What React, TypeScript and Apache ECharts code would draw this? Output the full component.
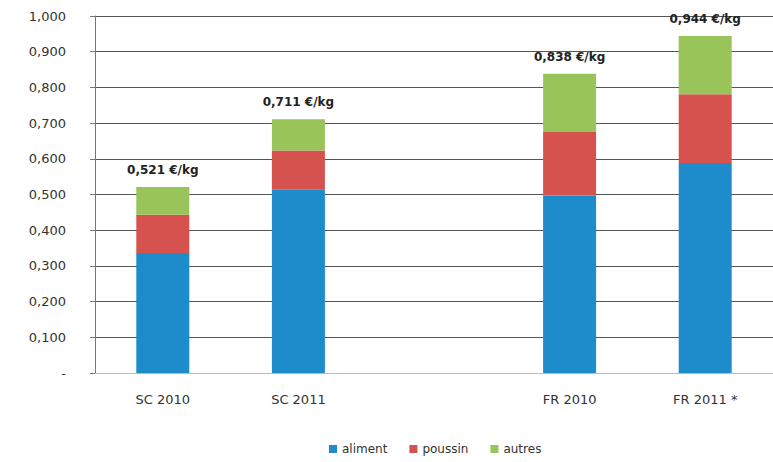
import React, { useEffect, useRef } from "react";
import * as echarts from "echarts";

const categories = ["SC 2010", "SC 2011", "", "FR 2010", "FR 2011 *"];
const aliment = [0.336, 0.515, null, 0.497, 0.588];
const poussin = [0.107, 0.108, null, 0.178, 0.193];
const autres = [0.078, 0.088, null, 0.163, 0.163];
const totals = ["0,521", "0,711", "", "0,838", "0,944"];
const seriesNames = ["aliment", "poussin", "autres"];
const colors = ["#1E8CCB", "#D6524E", "#98C45A"];

const fontFamily = "'DejaVu Sans', 'Noto Sans', sans-serif";

export default function App() {
  const ref = useRef<HTMLDivElement>(null);
  useEffect(() => {
    if (!ref.current) return;
    const chart = echarts.init(ref.current, null, { renderer: "svg" });
    const dataSets = [aliment, poussin, autres];
    chart.setOption({
      animation: false,
      backgroundColor: "#ffffff",
      textStyle: { fontFamily },
      grid: { left: 95, right: 0, top: 16, bottom: 89 },
      legend: {
        data: seriesNames,
        left: 324,
        top: 438,
        itemWidth: 8,
        itemHeight: 8,
        itemGap: 22,
        icon: "rect",
        textStyle: { fontSize: 12, color: "#333", fontFamily },
      },
      xAxis: {
        type: "category",
        data: categories,
        axisLine: { show: true, lineStyle: { color: "#bbb" } },
        axisTick: { show: false },
        axisLabel: { fontSize: 13, color: "#333", margin: 20, fontFamily },
      },
      yAxis: {
        type: "value",
        min: 0,
        max: 1,
        interval: 0.1,
        axisLine: { show: true, lineStyle: { color: "#777" } },
        axisTick: { show: true, length: 5, lineStyle: { color: "#777" } },
        axisLabel: {
          fontSize: 13,
          color: "#333",
          margin: 29,
          fontFamily,
          formatter: (v: number) => (v === 0 ? "-" : v.toFixed(3).replace(".", ",")),
        },
        splitLine: { show: true, lineStyle: { color: "#555", width: 1 } },
      },
      series: dataSets.map((d, i) => ({
        name: seriesNames[i],
        type: "bar",
        stack: "total",
        barWidth: 53,
        data: d,
        itemStyle: { color: colors[i] },
        label:
          i === 2
            ? {
                show: true,
                position: "top",
                distance: 11,
                fontSize: 12,
                fontWeight: "bold",
                color: "#222",
                fontFamily,
                formatter: (p: any) => (totals[p.dataIndex] ? totals[p.dataIndex] + " €/kg" : ""),
              }
            : { show: false },
      })),
    });
    return () => chart.dispose();
  }, []);
  return (
    <div
      ref={ref}
      style={{ position: "fixed", left: 0, top: 0, width: 773, height: 462 }}
    />
  );
}
